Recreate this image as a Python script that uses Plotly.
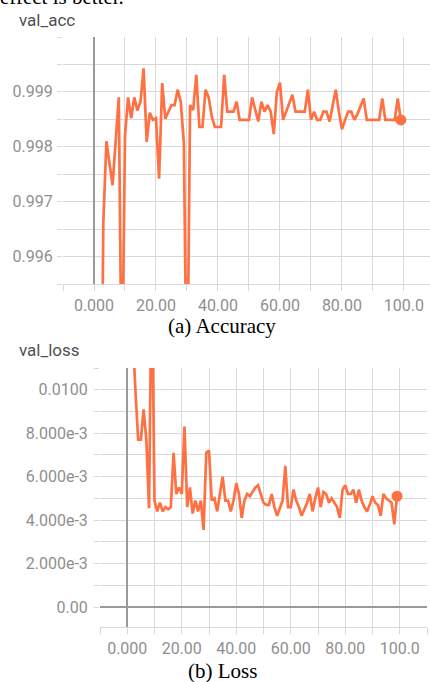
import plotly.graph_objects as go

epochs = list(range(100))

val_acc = [
    0.9850, 0.9880, 0.9900, 0.9966, 0.9981, 0.9977, 0.9973, 0.9981, 0.9989, 0.9933,
    0.9982, 0.9989, 0.99852, 0.9989, 0.99866, 0.99882, 0.99943, 0.99809, 0.99862, 0.99849,
    0.99852, 0.99742, 0.99916, 0.99851, 0.99864, 0.99876, 0.99876, 0.99904, 0.99882, 0.99806,
    0.9930, 0.99876, 0.99867, 0.99931, 0.99836, 0.99836, 0.99904, 0.99890, 0.99855, 0.99836,
    0.99836, 0.99836, 0.99931, 0.99864, 0.99864, 0.99864, 0.99882, 0.99849, 0.99849, 0.99849,
    0.99849, 0.99890, 0.99865, 0.99846, 0.99882, 0.99864, 0.99876, 0.99864, 0.99823, 0.99900,
    0.99917, 0.99849, 0.99864, 0.99880, 0.99895, 0.99864, 0.99864, 0.99864, 0.99864, 0.99904,
    0.99849, 0.99864, 0.99849, 0.99849, 0.99864, 0.99864, 0.99846, 0.99875, 0.99904, 0.99864,
    0.99832, 0.99849, 0.99864, 0.99864, 0.99849, 0.99860, 0.99876, 0.99888, 0.99849, 0.99849,
    0.99849, 0.99849, 0.99849, 0.99888, 0.99849, 0.99849, 0.99849, 0.99849, 0.99888, 0.99849,
]

val_loss = [
    0.0300, 0.0200, 0.0125, 0.0100, 0.0077, 0.0077, 0.0091, 0.0077, 0.00455, 0.0160,
    0.0049, 0.0044, 0.0048, 0.0044, 0.0046, 0.0045, 0.0046, 0.0071, 0.0052, 0.0055,
    0.0052, 0.0083, 0.0046, 0.0055, 0.0043, 0.0049, 0.0044, 0.0049, 0.00355, 0.0071,
    0.0072, 0.0049, 0.0050, 0.0044, 0.0052, 0.0060, 0.0049, 0.0049, 0.0044, 0.0049,
    0.0057, 0.0052, 0.0041, 0.0049, 0.0052, 0.0051, 0.0053, 0.0055, 0.0056, 0.0052,
    0.0048, 0.0047, 0.0047, 0.0052, 0.0046, 0.0042, 0.0046, 0.0049, 0.0065, 0.0046,
    0.0046, 0.0054, 0.0049, 0.0046, 0.0042, 0.0045, 0.0048, 0.0052, 0.0044, 0.0050,
    0.0055, 0.0046, 0.0053, 0.0052, 0.0048, 0.0050, 0.0048, 0.0046, 0.0041, 0.0054,
    0.0056, 0.0052, 0.0052, 0.0054, 0.0048, 0.0054, 0.0049, 0.0046, 0.0044, 0.0047,
    0.0051, 0.0048, 0.0047, 0.0042, 0.0052, 0.0050, 0.0049, 0.0048, 0.0038, 0.0051,
]

x_grid = [-10, 0, 10, 20, 30, 40, 50, 60, 70, 80, 90, 100, 110]
x_text = ["", "0.000", "", "20.00", "", "40.00", "", "60.00", "", "80.00", "", "100.0", ""]

acc_grid = [0.9955, 0.9960, 0.9965, 0.9970, 0.9975, 0.9980, 0.9985, 0.9990, 0.9995, 1.0]
acc_text = ["", "0.996", "", "0.997", "", "0.998", "", "0.999", "", ""]

loss_grid = [-0.001, 0.0, 0.001, 0.002, 0.003, 0.004, 0.005, 0.006, 0.007, 0.008, 0.009, 0.010, 0.011]
loss_text = ["", "0.00", "", "2.000e-3", "", "4.000e-3", "", "6.000e-3", "", "8.000e-3", "", "0.0100", ""]

W, H = 430, 682
ORANGE = "#ff7043"
GRID = "#d8d8d8"
ZERO = "#9a9a9a"
TICKFONT = dict(family="Roboto", size=16, color="#8f8f8f")

def px_x(p):
    return p / W

def px_y(p):
    return 1 - p / H

fig = go.Figure()

fig.add_trace(go.Scatter(x=epochs, y=val_acc, mode="lines", line=dict(color=ORANGE, width=2.7),
                         xaxis="x", yaxis="y", showlegend=False, hoverinfo="skip"))
fig.add_trace(go.Scatter(x=[epochs[-1]], y=[val_acc[-1]], mode="markers",
                         marker=dict(color=ORANGE, size=11), xaxis="x", yaxis="y",
                         showlegend=False, hoverinfo="skip"))
fig.add_trace(go.Scatter(x=epochs, y=val_loss, mode="lines", line=dict(color=ORANGE, width=2.7),
                         xaxis="x2", yaxis="y2", showlegend=False, hoverinfo="skip"))
fig.add_trace(go.Scatter(x=[epochs[-1]], y=[val_loss[-1]], mode="markers",
                         marker=dict(color=ORANGE, size=11), xaxis="x2", yaxis="y2",
                         showlegend=False, hoverinfo="skip"))

common_x = dict(tickmode="array", tickvals=x_grid, ticktext=x_text, showgrid=True,
                gridcolor=GRID, gridwidth=1, ticks="outside", ticklen=6, tickcolor=GRID,
                showline=True, linecolor=GRID, linewidth=1, tickfont=TICKFONT,
                zeroline=True, zerolinecolor=ZERO, zerolinewidth=1.5, fixedrange=True,
                automargin=False)
common_y = dict(tickmode="array", showgrid=True, gridcolor=GRID, gridwidth=1,
                ticks="outside", ticklen=5, tickcolor=GRID, showline=False,
                tickfont=TICKFONT, fixedrange=True, automargin=False)

fig.update_layout(
    width=W, height=H,
    margin=dict(l=0, r=0, t=0, b=0),
    paper_bgcolor="white", plot_bgcolor="white",
    xaxis=dict(common_x, domain=[px_x(63), 1.0], range=[-10, 108.4], anchor="y",
               ticklabelstandoff=1),
    yaxis=dict(common_y, domain=[px_y(284), px_y(37)], range=[0.9955, 1.0],
               tickvals=acc_grid, ticktext=acc_text, anchor="x", zeroline=False,
               ticklabelstandoff=1),
    xaxis2=dict(common_x, domain=[px_x(100), px_x(427)], range=[-10, 110], anchor="y2",
                ticklabelstandoff=1),
    yaxis2=dict(common_y, domain=[px_y(627), px_y(368)], range=[-0.00092, 0.011],
                tickvals=loss_grid, ticktext=loss_text, anchor="x2",
                zeroline=True, zerolinecolor=ZERO, zerolinewidth=1.5,
                ticklabelstandoff=3),
    annotations=[
        dict(text="effect is better.", xref="paper", yref="paper", x=px_x(-2), y=px_y(-3),
             xanchor="left", yanchor="middle", showarrow=False,
             font=dict(family="Liberation Serif", size=21, color="black")),
        dict(text="val_acc", xref="paper", yref="paper", x=px_x(17), y=px_y(20),
             xanchor="left", yanchor="middle", showarrow=False,
             font=dict(family="Roboto", size=17, color="#505050")),
        dict(text="(a) Accuracy", xref="paper", yref="paper", x=px_x(222), y=px_y(326),
             xanchor="center", yanchor="middle", showarrow=False,
             font=dict(family="Liberation Serif", size=21, color="black")),
        dict(text="val_loss", xref="paper", yref="paper", x=px_x(17), y=px_y(350),
             xanchor="left", yanchor="middle", showarrow=False,
             font=dict(family="Roboto", size=17, color="#505050")),
        dict(text="(b) Loss", xref="paper", yref="paper", x=px_x(222), y=px_y(671),
             xanchor="center", yanchor="middle", showarrow=False,
             font=dict(family="Liberation Serif", size=21, color="black")),
    ],
)

fig.write_html("out.html", config={"displayModeBar": False},
               post_script="document.body.style.margin='0px';document.body.style.padding='0px';")
